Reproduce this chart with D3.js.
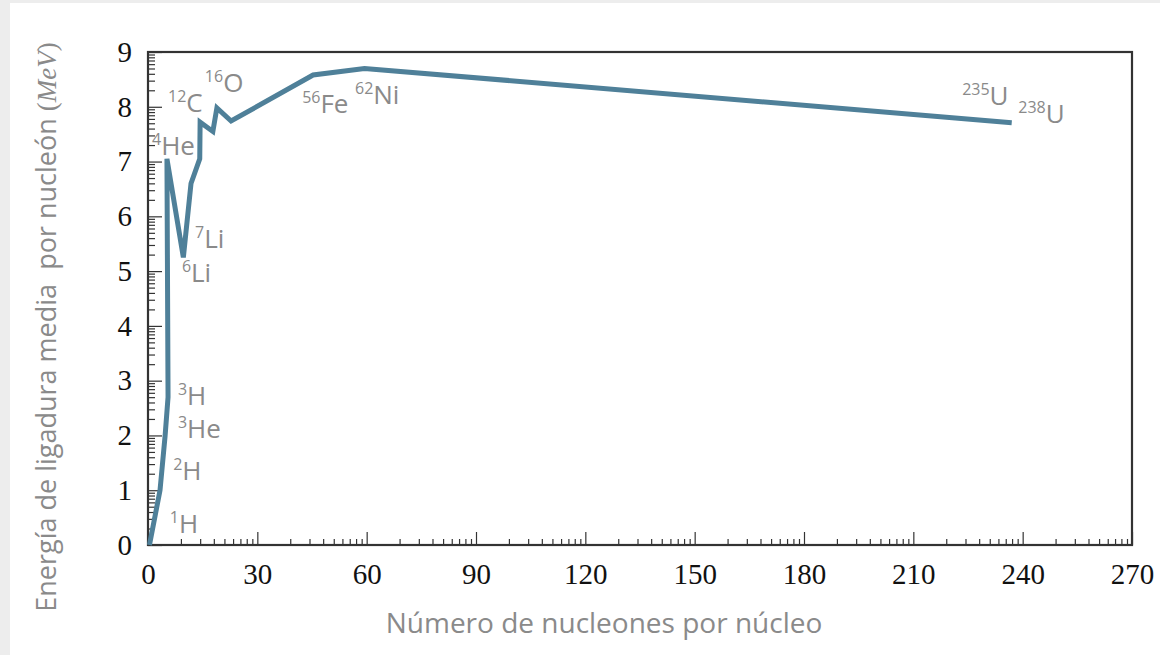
<html>
<head>
<meta charset="utf-8">
<title>Energía de ligadura</title>
<style>
  body { margin: 0; background: #ededed; }
  svg { display: block; }
</style>
</head>
<body>
<script src="https://cdn.jsdelivr.net/npm/d3@7"></script>
<script>
// curva: número másico (A) y energía de ligadura media por nucleón (MeV)
var masa =    [0.4, 3.3, 4.7, 5.5, 5.2, 9.7, 11.8, 14.2, 14.3, 17.8, 18.9, 22.8, 45.3, 59.4, 237];
var energia = [0.0, 1.0, 2.0, 2.7, 7.05, 5.25, 6.6, 7.05, 7.72, 7.55, 7.98, 7.74, 8.58, 8.70, 7.71];

// etiquetas de los núcleos (superíndice, símbolo, ancla en unidades del gráfico)
var etiquetaSup = ["1", "2", "3", "3", "6", "7", "4", "12", "16", "56", "62", "235", "238"];
var etiquetaSim = ["H", "H", "He", "H", "Li", "Li", "He", "C", "O", "Fe", "Ni", "U", "U"];
var etiquetaA =   [6.0, 6.9, 8.2, 8.2, 9.3, 12.9, 1.1, 5.5, 15.6, 42.3, 56.8, 223.4, 238.8];
var etiquetaE =   [0.22, 1.19, 1.95, 2.56, 4.80, 5.42, 7.12, 7.90, 8.27, 7.89, 8.05, 8.03, 7.70];

var ticksX = [0, 30, 60, 90, 120, 150, 180, 210, 240, 270];
var ticksY = [0, 1, 2, 3, 4, 5, 6, 7, 8, 9];

var width = 1160, height = 655;

var svg = d3.select("body").append("svg")
    .attr("width", width)
    .attr("height", height);

// panel blanco
svg.append("rect")
    .attr("x", 10).attr("y", 3)
    .attr("width", width - 10).attr("height", height - 3)
    .attr("fill", "#fff");

var x = d3.scaleLinear().domain([0, 270]).range([148, 1132]);
var y = d3.scaleLinear().domain([0, 9]).range([545, 52]);

// marcas menores con reparto logarítmico dentro de cada intervalo
var menoresX = [], menoresY = [];
for (var i = 0; i < ticksX.length - 1; i++)
    for (var k = 2; k < 10; k++) menoresX.push(ticksX[i] + 30 * Math.log10(k));
for (var j = 0; j < ticksY.length - 1; j++)
    for (var k2 = 2; k2 < 10; k2++) menoresY.push(ticksY[j] + Math.log10(k2));

svg.append("g").attr("transform", "translate(0," + y(0) + ")")
    .call(d3.axisBottom(x).tickValues(menoresX).tickSize(-6).tickFormat(""));
svg.append("g").attr("transform", "translate(0," + y(0) + ")")
    .call(d3.axisBottom(x).tickValues(ticksX).tickSize(-13).tickPadding(18).tickFormat(d3.format("d")));

svg.append("g").attr("transform", "translate(" + x(0) + ",0)")
    .call(d3.axisLeft(y).tickValues(menoresY).tickSize(-7).tickFormat(""));
svg.append("g").attr("transform", "translate(" + x(0) + ",0)")
    .call(d3.axisLeft(y).tickValues(ticksY).tickSize(-14).tickPadding(16).tickFormat(d3.format("d")));

svg.selectAll(".domain").remove();
svg.selectAll(".tick line").attr("stroke", "#333").attr("stroke-width", 1.2);
svg.selectAll(".tick text")
    .attr("font-family", "'Liberation Serif', serif")
    .attr("font-size", 29)
    .attr("fill", "#111");

// marco
svg.append("rect")
    .attr("x", x(0)).attr("y", y(9))
    .attr("width", x(270) - x(0)).attr("height", y(0) - y(9))
    .attr("fill", "none")
    .attr("stroke", "#333")
    .attr("stroke-width", 2.2);

// curva
var linea = d3.line().x(function (d, i) { return x(masa[i]); }).y(function (d, i) { return y(energia[i]); });
svg.append("path")
    .attr("d", linea(masa))
    .attr("fill", "none")
    .attr("stroke", "#4f8099")
    .attr("stroke-width", 5)
    .attr("stroke-linejoin", "miter");

// etiquetas
var etiq = svg.selectAll(".nucleo")
    .data(etiquetaSim)
    .enter().append("text")
    .attr("class", "nucleo")
    .attr("x", function (d, i) { return x(etiquetaA[i]); })
    .attr("y", function (d, i) { return y(etiquetaE[i]); })
    .attr("font-family", "'Open Sans', sans-serif")
    .attr("fill", "#8a8a8a");
etiq.append("tspan")
    .attr("font-size", 16)
    .attr("dy", -10)
    .text(function (d, i) { return etiquetaSup[i]; });
etiq.append("tspan")
    .attr("font-size", 26)
    .attr("dy", 10)
    .text(function (d) { return d; });

// títulos de los ejes
svg.append("text")
    .attr("x", 604).attr("y", 633)
    .attr("text-anchor", "middle")
    .attr("font-family", "'Open Sans', sans-serif")
    .attr("font-size", 28)
    .attr("fill", "#8a8a8a")
    .text("Número de nucleones por núcleo");

var tituloY = svg.append("text")
    .attr("transform", "translate(56,327) rotate(-90)")
    .attr("text-anchor", "middle")
    .attr("font-family", "'Open Sans', sans-serif")
    .attr("font-size", 27)
    .attr("fill", "#8a8a8a")
    .attr("xml:space", "preserve");
tituloY.append("tspan").text("Energía de ligadura media  por nucleón ");
tituloY.append("tspan").attr("font-family", "'Liberation Serif', serif").text("(");
tituloY.append("tspan").attr("font-family", "'Liberation Serif', serif").attr("font-style", "italic").text("MeV");
tituloY.append("tspan").attr("font-family", "'Liberation Serif', serif").text(")");
</script>
</body>
</html>
